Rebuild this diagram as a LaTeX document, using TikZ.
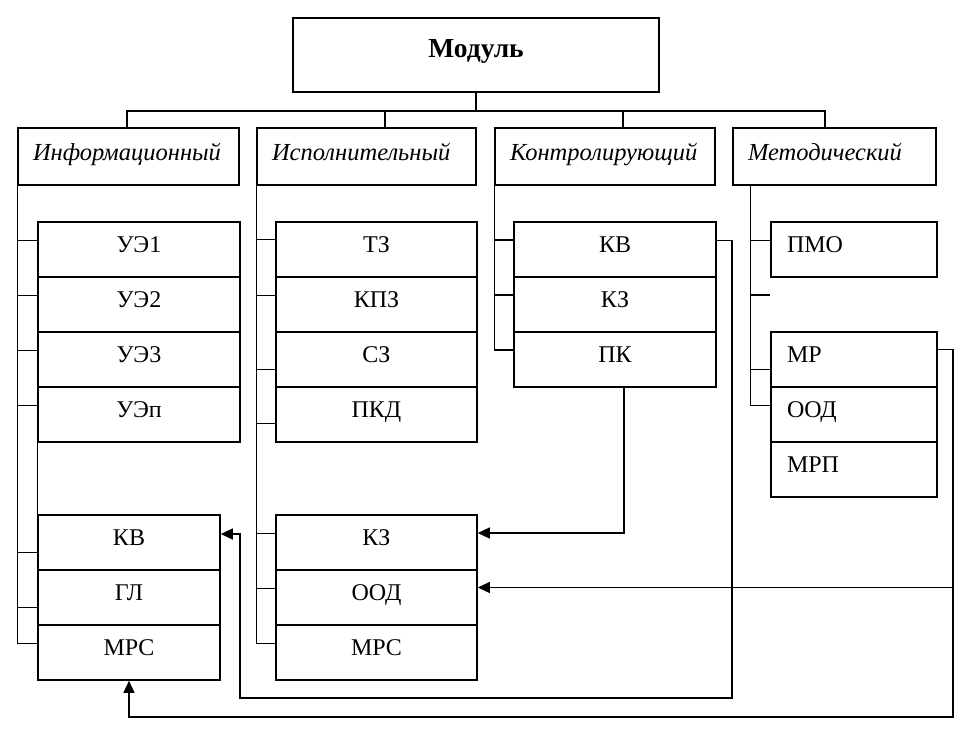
\documentclass[tikz,border=0pt]{standalone}
\usepackage{fontspec}
\setmainfont{Liberation Serif}
\usepackage{tikz}
\usetikzlibrary{matrix,arrows.meta,calc}

\tikzset{
	cell/.style={draw, line width=1.6pt, minimum height=55pt, inner sep=0pt,
		font=\fontsize{24}{28}\selectfont, text height=15pt, text depth=9pt},
	stack/.style={matrix of nodes, anchor=north west, inner sep=0pt, row sep=-1.6pt},
	head/.style={draw, line width=1.6pt, minimum height=57pt, inner xsep=15pt, inner ysep=0pt,
		align=left, font=\fontsize{24.5}{28}\selectfont\itshape, text height=15pt, text depth=8pt},
	link/.style={line width=1.4pt},
	arr/.style={link, -{Triangle[length=12pt,width=11pt]}}
}

\begin{document}
\begin{tikzpicture}[x=1pt, y=-1pt]
\useasboundingbox (0,0) rectangle (968,734);

\node[draw, line width=1.6pt, minimum width=366pt, minimum height=74pt, inner sep=0pt,
	font=\fontsize{27.5}{30}\selectfont\bfseries, text height=12pt, text depth=8pt] (mod) at (476,55) {Модуль};

\node[head, text width=191pt] (info) at (128.5,156.5) {Информационный};
\node[head, text width=189pt] (isp) at (366.5,156.5) {Исполнительный};
\node[head, text width=190pt] (ctl) at (605,156.5) {Контролирующий};
\node[head, text width=173pt] (met) at (834.5,156.5) {Методический};

% branches from the module
\coordinate (split) at (476,111);
\draw[link] (mod.south) -- (split);
\draw[link] (split) -| ([xshift=-1.5pt]info.north);
\draw[link] (split) -| ([xshift=18.5pt]isp.north);
\draw[link] (split) -| ([xshift=18pt]ctl.north);
\draw[link] (split) -| ([xshift=-9.5pt]met.north);

% information module
\matrix (ui) [stack, nodes={cell, minimum width=202pt}] at (37,221)
{
	УЭ1 \\ УЭ2 \\ УЭ3 \\ УЭп \\
};
\matrix (ki) [stack, nodes={cell, minimum width=182pt}] at (37,514)
{
	КВ \\ ГЛ \\ МРС \\
};
\foreach \r in {1,...,4}
	\draw[link] (info.south west) |- ([yshift=9pt]ui-\r-1.west);
\draw[link] (info.south west) |- ([yshift=-10pt]ki-1-1.west);
\draw[link] (info.south west) |- ([yshift=-10pt]ki-2-1.west);
\draw[link] (info.south west) |- ([yshift=9pt]ki-3-1.west);
\draw[link] (ui-4-1.south west) -- (ki-1-1.north west);

% executive module
\matrix (zd) [stack, nodes={cell, minimum width=201pt}] at (275,221)
{
	ТЗ \\ КПЗ \\ СЗ \\ ПКД \\
};
\matrix (ez) [stack, nodes={cell, minimum width=201pt}] at (275,514)
{
	КЗ \\ ООД \\ МРС \\
};
\draw[link] (isp.south west) |- ([yshift=10pt]zd-1-1.west);
\draw[link] (isp.south west) |- ([yshift=9pt]zd-2-1.west);
\draw[link] (isp.south west) |- ([yshift=-10pt]zd-3-1.west);
\draw[link] (isp.south west) |- ([yshift=-9pt]zd-4-1.west);
\foreach \r in {1,2,3}
	\draw[link] (isp.south west) |- ([yshift=9pt]ez-\r-1.west);

% control module
\matrix (kt) [stack, nodes={cell, minimum width=202pt}] at (513,221)
{
	КВ \\ КЗ \\ ПК \\
};
\foreach \r in {1,2,3}
	\draw[link] (ctl.south west) |- ([yshift=9.5pt]kt-\r-1.west);

% methodical module
\coordinate (mtrunk) at ([xshift=18pt]met.south west);
\coordinate (stub) at (770,295);
\matrix (pm) [stack, nodes={cell, minimum width=166pt, text width=134pt, align=left, inner xsep=16pt}] at (770,221)
{
	ПМО \\
};
\matrix (mr) [stack, nodes={cell, minimum width=166pt, text width=134pt, align=left, inner xsep=16pt}] at (770,331)
{
	МР \\ ООД \\ МРП \\
};
\draw[link] (mtrunk) |- ([yshift=9pt]pm-1-1.west);
\draw[link] (mtrunk) |- (stub);
\draw[link] (mtrunk) |- ([yshift=-10pt]mr-1-1.west);
\draw[link] (mtrunk) |- ([yshift=9pt]mr-2-1.west);

% cross links
\coordinate (kvbus) at (732,698);
\coordinate (mrbus) at (953,717);
\coordinate (oodin) at ([yshift=10pt]ez-2-1.east);
\draw[arr] ([xshift=9pt]kt-3-1.south) |- ([yshift=9.5pt]ez-1-1.east);
\draw[arr] ([yshift=9pt]kt-1-1.east) -| (kvbus) -| ([xshift=19pt,yshift=8.5pt]ki-1-1.east) -- ([yshift=8.5pt]ki-1-1.east);
\draw[arr] ([yshift=10pt]mr-1-1.east) -| (mrbus) -| (ki-3-1.south);
\draw[arr] (oodin -| mrbus) -- (oodin);
\end{tikzpicture}
\end{document}
